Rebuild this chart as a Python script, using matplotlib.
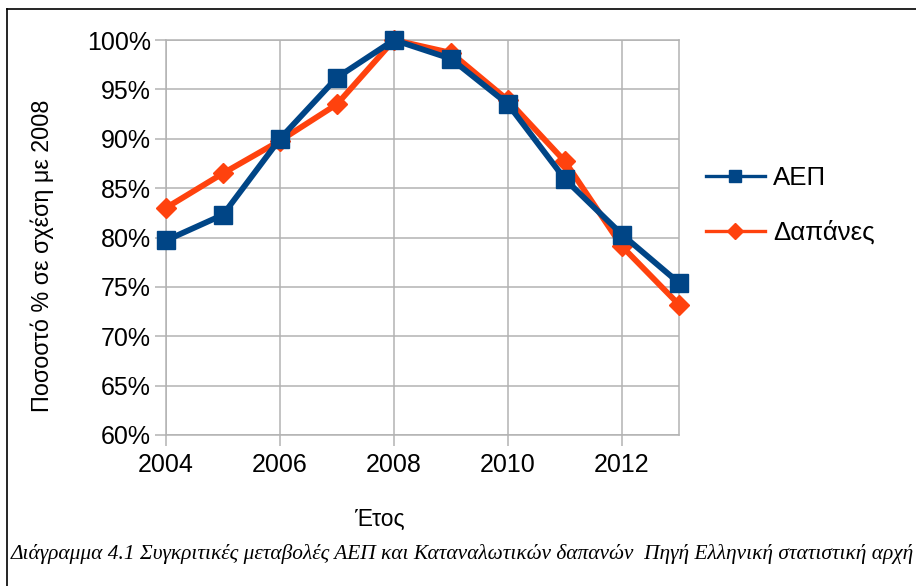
import matplotlib
matplotlib.use("Agg")
import matplotlib.pyplot as plt
from matplotlib.lines import Line2D
from matplotlib.ticker import FuncFormatter

years = [2004, 2005, 2006, 2007, 2008, 2009, 2010, 2011, 2012, 2013]
aep = [79.7, 82.3, 90.0, 96.2, 100.0, 98.1, 93.5, 85.9, 80.3, 75.4]
dapanes = [83.0, 86.5, 89.8, 93.5, 100.0, 98.7, 93.9, 87.7, 79.1, 73.2]
y_ticks = [60, 65, 70, 75, 80, 85, 90, 95, 100]
x_ticks = [2004, 2006, 2008, 2010, 2012]
series_names = ["ΑΕΠ", "Δαπάνες"]
y_label = "Ποσοστό % σε σχέση με 2008"
x_label = "Έτος"
caption = "Διάγραμμα 4.1 Συγκριτικές μεταβολές ΑΕΠ και Καταναλωτικών δαπανών  Πηγή Ελληνική στατιστική αρχή"

W, H = 916, 586
plt.rcParams['font.family'] = ['Liberation Sans', 'DejaVu Sans']
fig = plt.figure(figsize=(W / 100, H / 100), dpi=100)
ax = fig.add_axes([166 / W, 1 - 435 / H, (679 - 166) / W, (435 - 40) / H])

blue = "#004586"
orange = "#ff420e"
grid = "#b3b3b3"

ax.plot(years, dapanes, color=orange, lw=4.2, marker="D", ms=10, mec=orange,
        zorder=3, clip_on=False)
ax.plot(years, aep, color=blue, lw=4.2, marker="s", ms=13.5, mec=blue,
        zorder=4, clip_on=False)

ax.set_xlim(2004, 2013)
ax.set_ylim(60, 100)
ax.set_yticks(y_ticks)
ax.set_xticks(x_ticks)
ax.yaxis.set_major_formatter(FuncFormatter(lambda v, p: f"{v:.0f}%"))
ax.grid(True, color=grid, lw=1.1)
ax.set_axisbelow(True)
for s in ax.spines.values():
    s.set_color(grid)
    s.set_linewidth(1.1)
ax.tick_params(axis="both", colors=grid, labelcolor="black", labelsize=18,
               length=8, width=1.1)
ax.tick_params(axis="y", pad=3)
ax.tick_params(axis="x", pad=5)

h_aep = Line2D([], [], color=blue, lw=2.4, marker="s", ms=9, mec=blue)
h_dap = Line2D([], [], color=orange, lw=2.4, marker="D", ms=8, mec=orange)
fig.legend([h_aep, h_dap], series_names, loc="center left",
           bbox_to_anchor=(685 / W, 1 - 205.5 / H), frameon=False,
           fontsize=18.6, handlelength=2.3, handletextpad=0.3,
           labelspacing=1.17, borderpad=0.3)

fig.text(42 / W, 1 - 256 / H, y_label, rotation=90, ha="center", va="center",
         fontsize=16.8)
fig.text(379 / W, 1 - 519 / H, x_label, ha="center", va="center", fontsize=16.5,
         family=['Liberation Sans Narrow', 'Liberation Sans', 'DejaVu Sans'])
fig.text(11 / W, 1 - 554 / H, caption, ha="left", va="center", fontsize=15.4,
         style="italic", family=['Liberation Serif', 'DejaVu Serif'])

fig.add_artist(Line2D([7 / W, 7 / W], [0, 1 - 9 / H], color="black", lw=1.2,
                      transform=fig.transFigure))
fig.add_artist(Line2D([7 / W, 1], [1 - 9 / H, 1 - 9 / H], color="black", lw=1.2,
                      transform=fig.transFigure))

fig.savefig("out.png", dpi=100)
